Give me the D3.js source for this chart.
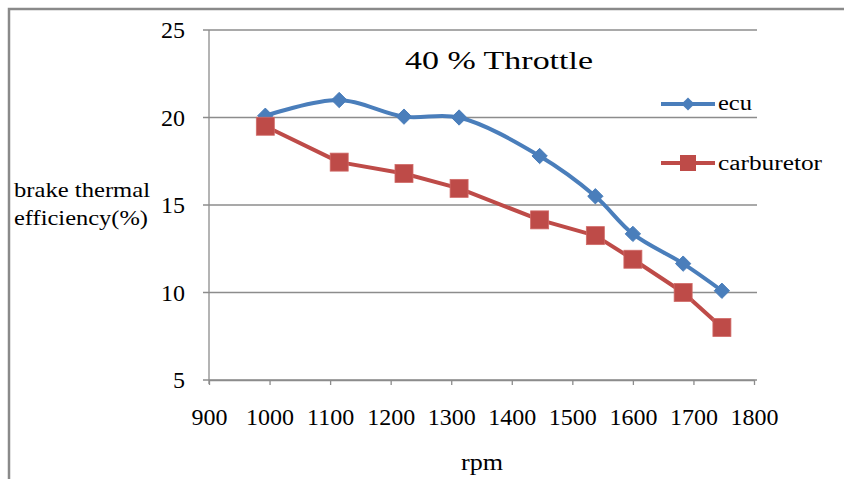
<!DOCTYPE html>
<html><head><meta charset="utf-8">
<script src="https://cdn.jsdelivr.net/npm/d3@7"></script>
<style>body{margin:0;background:#fff}svg{display:block;font-family:"Liberation Serif","Times New Roman",serif}</style>
</head><body><svg id="c" width="844" height="479"></svg>
<script>
const rpmEcu = [993, 1115, 1222, 1313, 1446, 1538, 1600, 1683, 1747];
const ecu = [20.1, 21.0, 20.05, 20.0, 17.8, 15.5, 13.35, 11.65, 10.1];
const rpmCarb = [993, 1115, 1222, 1313, 1446, 1538, 1600, 1683, 1747];
const carburetor = [19.5, 17.45, 16.8, 15.95, 14.15, 13.25, 11.9, 10.0, 8.0];
const xTicks = [900, 1000, 1100, 1200, 1300, 1400, 1500, 1600, 1700, 1800];
const yTicks = [5, 10, 15, 20, 25];

const svg = d3.select("#c");
svg.append("path").attr("d","M9,479 V9 H844").attr("fill","none").attr("stroke","#8a8a8a").attr("stroke-width",2.5);

const x = d3.scaleLinear().domain([900,1800]).range([209,754]);
const y = d3.scaleLinear().domain([5,25]).range([380,30]);

svg.append("g").selectAll("line").data(yTicks).join("line")
  .attr("x1",203).attr("x2",757).attr("y1",d=>y(d)).attr("y2",d=>y(d))
  .attr("stroke","#8c8c8c").attr("stroke-width",1.3);

svg.append("line").attr("x1",209).attr("x2",209).attr("y1",30).attr("y2",384).attr("stroke","#8c8c8c").attr("stroke-width",1.3);
svg.append("g").selectAll("text").data(yTicks).join("text")
  .attr("x",185).attr("y",d=>y(d)+8).attr("text-anchor","end").attr("font-size",24).attr("fill","#000").text(d=>d);

const xa = svg.append("g").attr("transform","translate(0,380)")
  .call(d3.axisBottom(x).tickValues(xTicks).tickSize(5).tickSizeOuter(0).tickPadding(23).tickFormat(d3.format("d")));
xa.select(".domain").attr("stroke","#8c8c8c").attr("stroke-width",1.3);
xa.selectAll(".tick line").attr("stroke","#8c8c8c").attr("stroke-width",1.3);
xa.selectAll(".tick text").attr("font-size",24).attr("font-family","Liberation Serif").attr("fill","#000");

svg.append("text").attr("x",461).attr("y",470).attr("font-size",24).attr("textLength",42).attr("lengthAdjust","spacingAndGlyphs").text("rpm");
svg.append("text").attr("x",14).attr("y",197).attr("font-size",21).attr("textLength",136).attr("lengthAdjust","spacingAndGlyphs").text("brake thermal");
svg.append("text").attr("x",14).attr("y",225).attr("font-size",21).attr("textLength",134).attr("lengthAdjust","spacingAndGlyphs").text("efficiency(%)");

svg.append("text").attr("x",405).attr("y",69).attr("font-size",26).attr("textLength",188).attr("lengthAdjust","spacingAndGlyphs").text("40 % Throttle");

const blue = "#4a7ebb", red = "#be4b48";
const ecuPts = rpmEcu.map((r,i)=>[x(r),y(ecu[i])]);
const carbPts = rpmCarb.map((r,i)=>[x(r),y(carburetor[i])]);

svg.append("path").attr("d",d3.line().curve(d3.curveCatmullRom.alpha(0.5))(ecuPts))
  .attr("fill","none").attr("stroke",blue).attr("stroke-width",4).attr("stroke-linejoin","round");
svg.append("path").attr("d",d3.line()(carbPts))
  .attr("fill","none").attr("stroke",red).attr("stroke-width",4).attr("stroke-linejoin","round");

const dia = d3.symbol().type(d3.symbolDiamond2).size(150);
svg.append("g").selectAll("path").data(ecuPts).join("path")
  .attr("transform",d=>`translate(${d[0]},${d[1]})`).attr("d",dia).attr("fill",blue).attr("stroke",blue).attr("stroke-width",1);
svg.append("g").selectAll("rect").data(carbPts).join("rect")
  .attr("x",d=>d[0]-9).attr("y",d=>d[1]-9).attr("width",18).attr("height",18).attr("fill",red).attr("stroke","#d06a67").attr("stroke-width",0.8);

svg.append("line").attr("x1",661).attr("x2",715).attr("y1",104).attr("y2",104).attr("stroke",blue).attr("stroke-width",4);
svg.append("path").attr("transform","translate(688,104)").attr("d",d3.symbol().type(d3.symbolDiamond2).size(110)).attr("fill",blue);
svg.append("text").attr("x",718).attr("y",110).attr("font-size",20).attr("textLength",34).attr("lengthAdjust","spacingAndGlyphs").text("ecu");
svg.append("line").attr("x1",661).attr("x2",715).attr("y1",163).attr("y2",163).attr("stroke",red).attr("stroke-width",4);
svg.append("rect").attr("x",680).attr("y",155).attr("width",16).attr("height",16).attr("fill",red);
svg.append("text").attr("x",718).attr("y",170).attr("font-size",20).attr("textLength",104).attr("lengthAdjust","spacingAndGlyphs").text("carburetor");
</script></body></html>
